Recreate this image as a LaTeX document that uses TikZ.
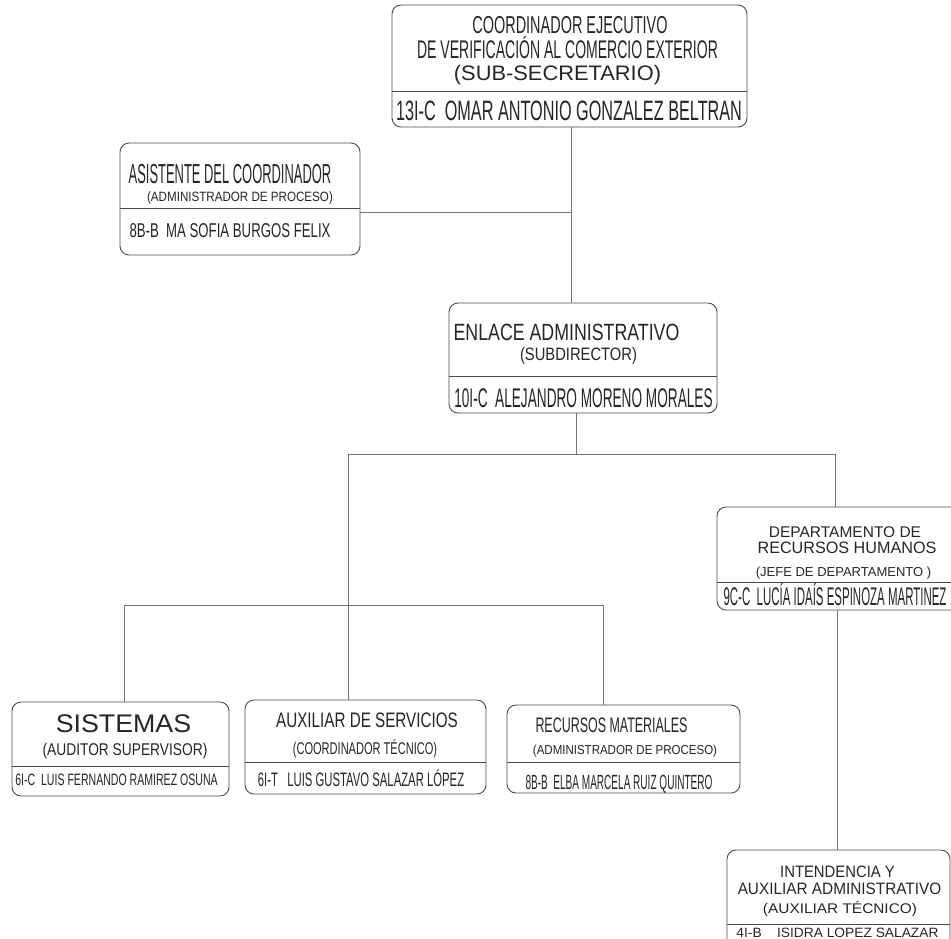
\documentclass[tikz,border=0pt]{standalone}
\usepackage{fontspec}
\setmainfont{Liberation Sans}
\usepackage{graphicx}
\newcommand{\orgtxt}[3]{\fontsize{#1}{#1}\selectfont\scalebox{#2}[1]{#3}}
\tikzset{
  orgbox/.style={draw=black!70, line width=0.9pt, rounded corners=9pt},
  orgline/.style={draw=black!70, line width=0.9pt},
  orglink/.style={draw=black!55, line width=1pt},
  lbl/.style={anchor=base, inner sep=0pt, text=black!85},
}

\begin{document}
\begin{tikzpicture}[x=1pt,y=-1pt]
\useasboundingbox (0,0) rectangle (951,938);
\fill[white] (0,0) rectangle (951,938);
\clip (0,0) rectangle (951,938);

% cajas
\node[orgbox, minimum width=355pt, minimum height=122pt] (top) at (569.5,66) {};
\node[orgbox, minimum width=240pt, minimum height=112pt] (asst) at (240,199) {};
\node[orgbox, minimum width=268pt, minimum height=110pt] (enl) at (583,358) {};
\node[orgbox, minimum width=243pt, minimum height=103pt] (rh) at (838.5,558.5) {};
\node[orgbox, minimum width=217pt, minimum height=94pt] (sis) at (120.5,749) {};
\node[orgbox, minimum width=241pt, minimum height=94pt] (aux) at (365.5,747) {};
\node[orgbox, minimum width=233pt, minimum height=88pt] (rec) at (623.5,749) {};
\node[orgbox, minimum width=223pt, minimum height=105pt] (int) at (838.5,902.5) {};

\draw[orgline] ([yshift=-25pt]top.west) -- ([yshift=-25pt]top.east);
\draw[orgline] ([yshift=-9pt]asst.west) -- ([yshift=-9pt]asst.east);
\draw[orgline] ([yshift=-18pt]enl.west) -- ([yshift=-18pt]enl.east);
\draw[orgline] ([yshift=-23.5pt]rh.west) -- ([yshift=-23.5pt]rh.east);
\draw[orgline] ([yshift=-17pt]sis.west) -- ([yshift=-17pt]sis.east);
\draw[orgline] ([yshift=-15pt]aux.west) -- ([yshift=-15pt]aux.east);
\draw[orgline] ([yshift=-13pt]rec.west) -- ([yshift=-13pt]rec.east);
\draw[orgline] ([yshift=-22pt]int.west) -- ([yshift=-22pt]int.east);

% textos
\node[lbl] (top1) at (570,33) {\orgtxt{24.5}{0.59}{COORDINADOR EJECUTIVO}};
\node[lbl] (top2) at (567.5,58) {\orgtxt{25.5}{0.55}{DE VERIFICACIÓN AL COMERCIO EXTERIOR}};
\node[lbl] (top3) at (557.5,80) {\orgtxt{21}{1.04}{(SUB-SECRETARIO)}};
\node[lbl] (topn) at (569,120) {\orgtxt{28}{0.58}{13I-C\ \ OMAR ANTONIO GONZALEZ BELTRAN}};

\node[lbl] (asst1) at (230,183) {\orgtxt{27.5}{0.47}{ASISTENTE DEL COORDINADOR}};
\node[lbl] (asst2) at (240,201) {\orgtxt{13.5}{0.86}{(ADMINISTRADOR DE PROCESO)}};
\node[lbl] (asstn) at (230,237) {\orgtxt{20}{0.66}{8B-B\ \ MA SOFIA BURGOS FELIX}};

\node[lbl] (enl1) at (566.5,340) {\orgtxt{23.5}{0.756}{ENLACE ADMINISTRATIVO}};
\node[lbl] (enl2) at (578.5,360) {\orgtxt{18}{0.82}{(SUBDIRECTOR)}};
\node[lbl] (enln) at (583.5,407) {\orgtxt{27}{0.505}{10I-C\ \ ALEJANDRO MORENO MORALES}};

\node[lbl] (rh1) at (845,537) {\orgtxt{15.5}{1}{DEPARTAMENTO DE}};
\node[lbl] (rh2) at (847,553) {\orgtxt{16.5}{0.98}{RECURSOS HUMANOS}};
\node[lbl] (rh3) at (843.5,576) {\orgtxt{13}{1}{(JEFE DE DEPARTAMENTO )}};
\node[lbl] (rhn) at (835,605) {\orgtxt{25.5}{0.45}{9C-C\ \ LUCÍA IDAÍS ESPINOZA MARTINEZ}};

\node[lbl] (sis1) at (123.5,732) {\orgtxt{25.5}{1.05}{SISTEMAS}};
\node[lbl] (sis2) at (125,755) {\orgtxt{17}{0.81}{(AUDITOR SUPERVISOR)}};
\node[lbl] (sisn) at (116.5,785) {\orgtxt{16.5}{0.64}{6I-C\ \ LUIS FERNANDO RAMIREZ OSUNA}};

\node[lbl] (aux1) at (367,727) {\orgtxt{21}{0.725}{AUXILIAR DE SERVICIOS}};
\node[lbl] (aux2) at (365,754) {\orgtxt{17}{0.65}{(COORDINADOR TÉCNICO)}};
\node[lbl] (auxn) at (361,786) {\orgtxt{19.5}{0.58}{6I-T\ \ \ LUIS GUSTAVO SALAZAR LÓPEZ}};

\node[lbl] (rec1) at (611.5,732) {\orgtxt{21}{0.593}{RECURSOS MATERIALES}};
\node[lbl] (rec2) at (625,754) {\orgtxt{13}{0.885}{(ADMINISTRADOR DE PROCESO)}};
\node[lbl] (recn) at (619,789) {\orgtxt{20.5}{0.49}{8B-B\ \ ELBA MARCELA RUIZ QUINTERO}};

\node[lbl] (int1) at (837.5,877) {\orgtxt{16.5}{0.9}{INTENDENCIA Y}};
\node[lbl] (int2) at (839.5,894) {\orgtxt{16.5}{0.93}{AUXILIAR ADMINISTRATIVO}};
\node[lbl] (int3) at (840,913) {\orgtxt{14}{1.1}{(AUXILIAR TÉCNICO)}};
\node[lbl] (intn) at (837.5,937) {\orgtxt{13.5}{1.02}{4I-B\ \ \ \ ISIDRA LOPEZ SALAZAR}};

% lineas
\coordinate (spine) at (571,212);
\coordinate (bus1) at (576,454);
\coordinate (bus1l) at (348,454);
\coordinate (bus1r) at (835,454);
\coordinate (bus2l) at (124,605);
\coordinate (bus2r) at (603,605);
\coordinate (rhx) at (837,700);

\draw[orglink] (top.south -| spine) -- (enl.north -| spine);
\draw[orglink] (asst.east |- spine) -- (spine);
\draw[orglink] (enl.south -| bus1) -- (bus1);
\draw[orglink] (bus1l) -- (bus1r);
\draw[orglink] (bus1r) -- (rh.north -| bus1r);
\draw[orglink] (bus1l) -- (aux.north -| bus1l);
\draw[orglink] (bus2l) -- (bus2r);
\draw[orglink] (bus2l) -- (sis.north -| bus2l);
\draw[orglink] (bus2r) -- (rec.north -| bus2r);
\draw[orglink] (rh.south -| rhx) -- (int.north -| rhx);
\end{tikzpicture}
\end{document}
